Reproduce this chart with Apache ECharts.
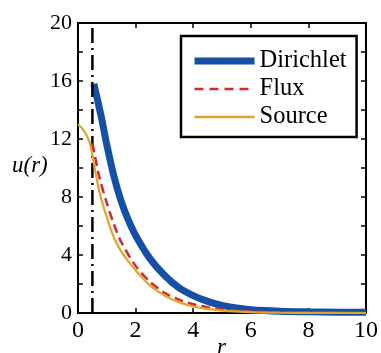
<!DOCTYPE html>
<html><head><meta charset="utf-8">
<script src="https://cdn.jsdelivr.net/npm/echarts@6/dist/echarts.min.js"></script>
<style>html,body{margin:0;padding:0;background:#fff}#c{width:381px;height:353px}</style>
</head><body><div id="c"></div>
<script>
var xTicks = [0, 2, 4, 6, 8, 10];
var yTicks = [0, 4, 8, 12, 16, 20];
var seriesNames = ['Dirichlet', 'Flux', 'Source'];
var boundaryR = 0.5;

var dirichletR = [0.55, 0.8, 1.0, 1.25, 1.5, 1.75, 2.0, 2.5, 3.0, 3.5, 4.0, 4.5, 5.0, 5.5, 6.0, 7.0, 8.0, 9.0, 10.0];
var dirichletU = [15.8, 13.6, 11.6, 9.4, 7.7, 6.4, 5.35, 3.75, 2.6, 1.75, 1.2, 0.8, 0.52, 0.34, 0.22, 0.12, 0.08, 0.06, 0.05];

var fluxR = [0.5, 0.75, 1.0, 1.25, 1.5, 2.0, 2.5, 3.0, 3.5, 4.0, 4.5, 5.0, 6.0, 7.0, 8.0, 10.0];
var fluxU = [11.7, 9.3, 7.6, 6.1, 4.9, 3.25, 2.15, 1.4, 0.92, 0.6, 0.4, 0.25, 0.1, 0.05, 0.02, 0.01];

var sourceR = [0, 0.2, 0.4, 0.5, 0.6, 0.75, 1.0, 1.25, 1.5, 2.0, 2.5, 3.0, 3.5, 4.0, 4.5, 5.0, 6.0, 7.0, 8.0, 10.0];
var sourceU = [13.0, 12.6, 11.8, 10.9, 9.8, 8.3, 6.6, 5.2, 4.25, 2.95, 1.9, 1.2, 0.75, 0.45, 0.28, 0.16, 0.06, 0.02, 0.01, 0];

function pairs(xs, ys) { return xs.map(function (x, i) { return [x, ys[i]]; }); }

var serif = 'Liberation Serif';
var chart = echarts.init(document.getElementById('c'), null, { renderer: 'canvas' });
var axisCommon = {
  type: 'value',
  axisLine: { show: true, onZero: false, lineStyle: { color: '#000', width: 2 } },
  axisTick: { show: true, inside: true, length: 5, lineStyle: { color: '#000', width: 1.5 } },
  splitLine: { show: false }
};
var colors = { Dirichlet: '#1650a6', Flux: '#d2282e', Source: '#e0a42a' };
chart.setOption({
  animation: false,
  grid: { left: 78, right: 12, top: 23, bottom: 40 },
  xAxis: [
    Object.assign({}, axisCommon, {
      min: xTicks[0], max: xTicks[xTicks.length - 1], interval: 2, position: 'bottom',
      axisLabel: { color: '#000', fontFamily: serif, fontSize: 24, margin: 6 }
    }),
    Object.assign({}, axisCommon, {
      min: xTicks[0], max: xTicks[xTicks.length - 1], interval: 2, position: 'top',
      axisLabel: { show: false }
    })
  ],
  yAxis: [
    Object.assign({}, axisCommon, {
      min: yTicks[0], max: yTicks[yTicks.length - 1], interval: 4, position: 'left',
      minorTick: { show: true, splitNumber: 2, length: 5, lineStyle: { color: '#000', width: 1.5 } },
      axisLabel: { color: '#000', fontFamily: serif, fontSize: 22, margin: 6 }
    }),
    Object.assign({}, axisCommon, {
      min: yTicks[0], max: yTicks[yTicks.length - 1], interval: 2, position: 'right',
      axisLabel: { show: false }
    })
  ],
  legend: {
    show: true, orient: 'vertical', left: 181, top: 36,
    data: [
      { name: seriesNames[0], lineStyle: { width: 7, color: colors.Dirichlet } },
      { name: seriesNames[1], lineStyle: { width: 2.5, color: colors.Flux, type: [9, 6] } },
      { name: seriesNames[2], lineStyle: { width: 2.5, color: colors.Source } }
    ],
    itemStyle: { color: 'rgba(0,0,0,0)', borderWidth: 0, opacity: 0 },
    backgroundColor: '#fff', borderColor: '#000', borderWidth: 2.5, borderRadius: 0,
    padding: [11, 10, 6, 10], itemGap: 0, itemWidth: 60, itemHeight: 14,
    textStyle: { color: '#000', fontFamily: serif, fontSize: 24.5, lineHeight: 28, padding: [0, 0, 0, 0] }
  },
  graphic: [
    { type: 'text', left: 12, top: 154, style: { text: 'u(r)', font: 'italic 23px "Liberation Serif"', fill: '#000' } },
    { type: 'text', left: 217, top: 336, style: { text: 'r', font: 'italic 23px "Liberation Serif"', fill: '#000' } }
  ],
  series: [
    {
      name: 'boundary', type: 'line', silent: true, showSymbol: false, symbol: 'none',
      data: [[boundaryR, yTicks[0]], [boundaryR, yTicks[yTicks.length - 1]]],
      lineStyle: { color: '#000', width: 2.5, type: [15, 5, 2, 5] }, z: 3
    },
    {
      name: 'Dirichlet', type: 'line', smooth: 0.3, showSymbol: false, symbol: 'none',
      data: pairs(dirichletR, dirichletU),
      lineStyle: { color: colors.Dirichlet, width: 7 }, itemStyle: { color: colors.Dirichlet }, z: 2
    },
    {
      name: 'Flux', type: 'line', smooth: 0.3, showSymbol: false, symbol: 'none',
      data: pairs(fluxR, fluxU),
      lineStyle: { color: colors.Flux, width: 2.5, type: [9, 5] }, itemStyle: { color: colors.Flux }, z: 4
    },
    {
      name: 'Source', type: 'line', smooth: 0.3, showSymbol: false, symbol: 'none',
      data: pairs(sourceR, sourceU),
      lineStyle: { color: colors.Source, width: 2.2 }, itemStyle: { color: colors.Source }, z: 4
    }
  ]
});
</script></body></html>
